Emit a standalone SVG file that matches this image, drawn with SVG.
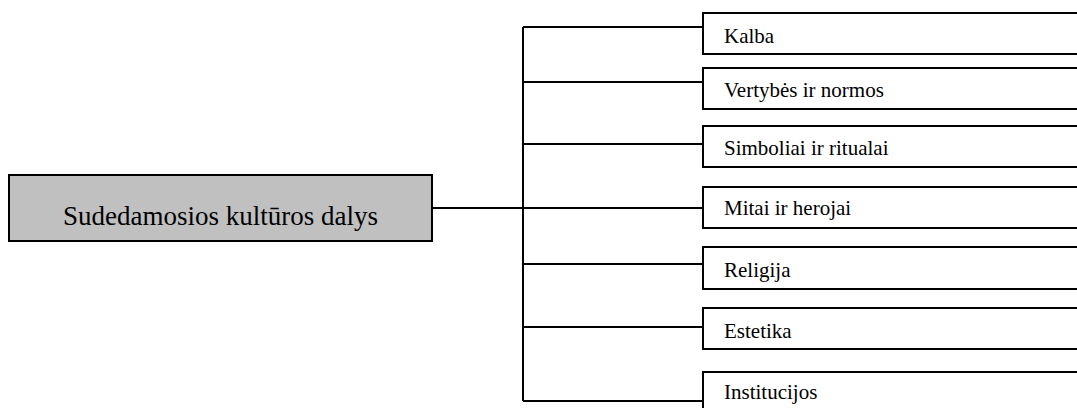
<svg xmlns="http://www.w3.org/2000/svg" width="1077" height="408" viewBox="0 0 1077 408">
<style>
.box{fill:#fff;stroke:#000;stroke-width:2}
.main{fill:#c0c0c0;stroke:#000;stroke-width:2}
.lbl{font-family:"Liberation Serif","Times New Roman",serif;font-size:21px;fill:#000}
.mlbl{font-family:"Liberation Serif","Times New Roman",serif;font-size:27px;fill:#000}
#connectors path{fill:none;stroke:#000;stroke-width:2}
</style>
<rect width="1077" height="408" fill="#fff"/>
<g id="connectors">
<path d="M432 208H523"/>
<path d="M523 27V401"/>
<path d="M523 27H703M523 82H703M523 144H703M523 208H703M523 264H703M523 327H703M523 401H703"/>
</g>
<g id="main">
<rect class="main" x="9" y="175" width="423" height="66"/>
<text class="mlbl" x="220.5" y="225" text-anchor="middle">Sudedamosios kultūros dalys</text>
</g>
<g id="kalba"><rect class="box" x="703" y="13" width="380" height="41"/><text class="lbl" x="724" y="43">Kalba</text></g>
<g id="vertybes"><rect class="box" x="703" y="68" width="380" height="41"/><text class="lbl" x="724" y="97">Vertybės ir normos</text></g>
<g id="simboliai"><rect class="box" x="703" y="126" width="380" height="41"/><text class="lbl" x="724" y="155">Simboliai ir ritualai</text></g>
<g id="mitai"><rect class="box" x="703" y="187" width="380" height="41"/><text class="lbl" x="724" y="215">Mitai ir herojai</text></g>
<g id="religija"><rect class="box" x="703" y="247" width="380" height="42"/><text class="lbl" x="724" y="277">Religija</text></g>
<g id="estetika"><rect class="box" x="703" y="308" width="380" height="41"/><text class="lbl" x="724" y="338">Estetika</text></g>
<g id="institucijos"><rect class="box" x="703" y="372" width="380" height="42"/><text class="lbl" x="724" y="399">Institucijos</text></g>
</svg>
